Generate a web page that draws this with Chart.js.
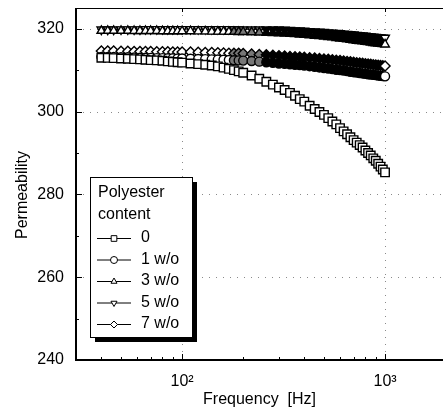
<!DOCTYPE html>
<html>
<head>
<meta charset="utf-8">
<script src="https://cdn.jsdelivr.net/npm/chart.js@4.4.1/dist/chart.umd.min.js"></script>
<style>
    html, body { margin: 0; padding: 0; background: #fff; overflow: hidden; }
    canvas { display: block; }
</style>
</head>
<body>
<canvas id="canvas" width="443" height="410" style="width:443px;height:410px"></canvas>
<script>
const Chart = window.Chart;

// частоты, Гц
const freq = [40, 43, 46, 50, 54, 58, 62, 66, 70, 75, 80, 85, 90, 95, 100,
    110, 120, 130, 140, 150, 160, 170, 180, 190, 200,
    220, 240, 260, 280, 300, 320, 340, 360, 380, 400,
    425, 450, 475, 500, 525, 550, 575, 600, 625, 650, 675, 700, 725, 750,
    775, 800, 825, 850, 875, 900, 925, 950, 975, 1000];

// проницаемость, 0 w/o
const perm0 = [313.0, 312.95, 312.9, 312.8, 312.75, 312.65, 312.6, 312.5, 312.4, 312.35, 312.25, 312.1, 312.0, 311.9, 311.8,
    311.6, 311.45, 311.3, 311.1, 310.9, 310.6, 310.3, 310.0, 309.7, 309.35,
    308.7, 307.9, 307.2, 306.5, 305.8, 305.2, 304.5, 303.8, 303.0, 302.4,
    301.4, 300.6, 299.9, 299.2, 298.4, 297.6, 296.9, 296.0, 295.2, 294.5, 293.8, 293.1, 292.5, 291.9,
    291.3, 290.6, 290.0, 289.4, 288.7, 288.1, 287.4, 286.7, 286.0, 285.3];

// 1 w/o
const perm1 = [313.2, 313.2, 313.15, 313.1, 313.1, 313.05, 313.0, 313.0, 312.95, 312.9, 312.9, 312.85, 312.85, 312.8, 312.8,
    312.75, 312.7, 312.65, 312.6, 312.55, 312.5, 312.45, 312.4, 312.35, 312.3,
    312.2, 312.05, 311.9, 311.75, 311.6, 311.5, 311.4, 311.3, 311.2, 311.1,
    310.95, 310.8, 310.65, 310.5, 310.4, 310.25, 310.1, 310.0, 309.9, 309.75, 309.6, 309.5, 309.4, 309.3,
    309.2, 309.1, 309.0, 308.95, 308.85, 308.8, 308.7, 308.6, 308.55, 308.5];

// 3 w/o
const perm3 = [319.5, 319.5, 319.5, 319.5, 319.5, 319.45, 319.45, 319.45, 319.45, 319.45, 319.4, 319.4, 319.4, 319.4, 319.4,
    319.4, 319.35, 319.35, 319.3, 319.3, 319.3, 319.25, 319.25, 319.2, 319.2,
    319.15, 319.1, 319.0, 318.95, 318.9, 318.85, 318.75, 318.7, 318.6, 318.5,
    318.4, 318.3, 318.2, 318.1, 318.0, 317.9, 317.75, 317.65, 317.55, 317.45, 317.3, 317.2, 317.1, 317.0,
    316.95, 316.85, 316.75, 316.65, 316.55, 316.5, 316.4, 316.35, 316.3, 316.2];

// 5 w/o
const perm5 = [319.8, 319.8, 319.8, 319.85, 319.85, 319.85, 319.85, 319.9, 319.9, 319.9, 319.9, 319.9, 319.9, 319.9, 319.9,
    319.9, 319.9, 319.9, 319.9, 319.9, 319.9, 319.9, 319.9, 319.85, 319.85,
    319.85, 319.85, 319.8, 319.8, 319.8, 319.75, 319.7, 319.6, 319.55, 319.5,
    319.4, 319.35, 319.25, 319.2, 319.1, 319.05, 318.95, 318.9, 318.8, 318.75, 318.65, 318.6, 318.5, 318.45,
    318.35, 318.3, 318.2, 318.15, 318.05, 318.0, 317.95, 317.9, 317.85, 317.8];

// 7 w/o
const perm7 = [314.6, 314.6, 314.6, 314.55, 314.55, 314.5, 314.5, 314.5, 314.5, 314.45, 314.45, 314.45, 314.4, 314.4, 314.4,
    314.35, 314.3, 314.25, 314.25, 314.2, 314.15, 314.1, 314.1, 314.05, 314.0,
    313.9, 313.8, 313.7, 313.6, 313.5, 313.4, 313.3, 313.25, 313.15, 313.1,
    313.0, 312.9, 312.8, 312.7, 312.6, 312.5, 312.4, 312.3, 312.2, 312.1, 312.0, 311.9, 311.8, 311.7,
    311.65, 311.55, 311.5, 311.4, 311.3, 311.25, 311.2, 311.1, 311.05, 311.0];

const seriesLabels = ["0", "1 w/o", "3 w/o", "5 w/o", "7 w/o"];
const legendTitle = ["Polyester", "content"];

const yTicks = [240, 260, 280, 300, 320];
const yMinor = [250, 270, 290, 310];
const xMajor = [100, 1000];
const xMinor = [40, 50, 60, 70, 80, 90, 200, 300, 400, 500, 600, 700, 800, 900];
const xTickLabels = {100: "10\u00B2", 1000: "10\u00B3"};

const SANS = 'Arial, "Liberation Sans", Helvetica, sans-serif';
const NARROW = '"Liberation Sans Narrow", "Arial Narrow", Arial, "Liberation Sans", sans-serif';

const toPoints = (vals) => vals.map((v, i) => ({x: freq[i], y: v}));

// плотная часть рядов при печати сливается в чёрную полосу
const denseFill = (c) => {
    if (!c.raw) return "#fff";
    const last = c.dataset.data.length - 1;
    if (c.dataIndex === last) return "#fff";
    if (c.raw.x >= 260) return "#000";
    if (c.raw.x >= 180) return "#777";
    return "#fff";
};

const markers = [
    {pointStyle: "rect", radius: 6, rotation: 0},
    {pointStyle: "circle", radius: 4.5, rotation: 0},
    {pointStyle: "triangle", radius: 5, rotation: 0},
    {pointStyle: "triangle", radius: 5, rotation: 180},
    {pointStyle: "rectRot", radius: 5, rotation: 0},
];

const values = [perm0, perm1, perm3, perm5, perm7];

const datasets = values.map((vals, i) => ({
    label: seriesLabels[i],
    data: toPoints(vals),
    showLine: true,
    borderColor: "#000",
    borderWidth: 1,
    pointStyle: markers[i].pointStyle,
    pointRadius: markers[i].radius,
    pointRotation: markers[i].rotation,
    pointBorderColor: "#000",
    pointBorderWidth: 1.4,
    pointBackgroundColor: i === 0 ? "#fff" : denseFill,
}));

const frame = {
    id: "frame",
    beforeDatasetsDraw(chart) {
        const {ctx, chartArea: a, scales: {x, y}} = chart;
        ctx.save();
        ctx.strokeStyle = "#8a8a8a";
        ctx.lineWidth = 1;
        ctx.setLineDash([1, 6]);
        yTicks.slice(1).forEach(v => {
            const py = Math.round(y.getPixelForValue(v)) + 0.5;
            ctx.beginPath(); ctx.moveTo(a.left, py); ctx.lineTo(a.right, py); ctx.stroke();
        });
        xMajor.forEach(v => {
            const px = Math.round(x.getPixelForValue(v)) + 0.5;
            ctx.beginPath(); ctx.moveTo(px, a.top); ctx.lineTo(px, a.bottom); ctx.stroke();
        });
        ctx.restore();
    },
    afterDraw(chart) {
        const {ctx, chartArea: a, scales: {x, y}} = chart;
        ctx.save();
        ctx.strokeStyle = "#000";
        ctx.setLineDash([]);

        // рамка
        ctx.lineWidth = 1;
        ctx.beginPath(); ctx.moveTo(a.left, a.top + 0.5); ctx.lineTo(a.right, a.top + 0.5); ctx.stroke();
        ctx.lineWidth = 2;
        ctx.beginPath();
        ctx.moveTo(a.left, a.top); ctx.lineTo(a.left, a.bottom); ctx.lineTo(a.right, a.bottom);
        ctx.stroke();

        // засечки внутрь
        ctx.lineWidth = 1;
        const tick = (x1, y1, x2, y2) => { ctx.beginPath(); ctx.moveTo(x1, y1); ctx.lineTo(x2, y2); ctx.stroke(); };
        yTicks.forEach(v => { const py = Math.round(y.getPixelForValue(v)) + 0.5; tick(a.left, py, a.left + 6, py); });
        yMinor.forEach(v => { const py = Math.round(y.getPixelForValue(v)) + 0.5; tick(a.left, py, a.left + 3, py); });
        xMajor.forEach(v => {
            const px = Math.round(x.getPixelForValue(v)) + 0.5;
            tick(px, a.bottom, px, a.bottom - 6);
            tick(px, a.top, px, a.top + 4);
        });
        xMinor.forEach(v => { const px = Math.round(x.getPixelForValue(v)) + 0.5; tick(px, a.bottom, px, a.bottom - 3); });

        // подпись оси y
        ctx.fillStyle = "#000";
        ctx.font = "16px " + SANS;
        ctx.translate(23, 195);
        ctx.rotate(-Math.PI / 2);
        ctx.textAlign = "center";
        ctx.textBaseline = "middle";
        ctx.fillText("Permeability", 0, 0);
        ctx.setTransform(1, 0, 0, 1, 0, 0);

        // легенда
        const bx = 90, by = 177, bw = 102, bh = 160;
        ctx.fillStyle = "#000";
        ctx.fillRect(bx + 5, by + 5, bw, bh);
        ctx.fillStyle = "#fff";
        ctx.fillRect(bx, by, bw, bh);
        ctx.strokeRect(bx + 0.5, by + 0.5, bw, bh);

        ctx.fillStyle = "#000";
        ctx.font = "16px " + SANS;
        ctx.textAlign = "left";
        ctx.textBaseline = "middle";
        ctx.fillText(legendTitle[0], 98, 193);
        ctx.fillText(legendTitle[1], 98, 215);

        chart.data.datasets.forEach((ds, i) => {
            const ry = 238 + i * 21.5;
            ctx.strokeStyle = "#000";
            ctx.lineWidth = 1;
            ctx.beginPath(); ctx.moveTo(97, ry + 0.5); ctx.lineTo(131, ry + 0.5); ctx.stroke();
            ctx.fillStyle = "#fff";
            Chart.helpers.drawPoint(ctx, {
                pointStyle: markers[i].pointStyle,
                rotation: markers[i].rotation,
                radius: markers[i].pointStyle === "rect" ? 4 : 3.5,
                borderWidth: 1,
            }, 114, ry + 0.5);
            ctx.fillStyle = "#000";
            ctx.fillText(ds.label, 141, ry);
        });
        ctx.restore();
    },
};

new Chart(document.getElementById("canvas"), {
    type: "scatter",
    data: {datasets},
    options: {
        responsive: false,
        animation: false,
        events: [],
        plugins: {
            legend: {display: false},
            tooltip: {enabled: false},
        },
        layout: {autoPadding: false, padding: {left: 0, right: 0, top: 8, bottom: 0}},
        scales: {
            x: {
                type: "logarithmic",
                min: 30,
                max: 1930,
                afterBuildTicks: (s) => { s.ticks = xMajor.map(v => ({value: v})); },
                afterFit: (s) => { s.height = 50; s.paddingLeft = 0; s.paddingRight = 0; },
                grid: {display: false, drawTicks: false},
                border: {display: false},
                ticks: {
                    color: "#000",
                    font: {family: NARROW, size: 16},
                    padding: 12,
                    autoSkip: false,
                    maxRotation: 0,
                    callback: (v) => xTickLabels[v] || "",
                },
                title: {
                    display: true,
                    text: "Frequency  [Hz]",
                    color: "#000",
                    font: {family: SANS, size: 16},
                    padding: {top: 0, bottom: 1},
                },
            },
            y: {
                type: "linear",
                min: 240,
                max: 325,
                afterBuildTicks: (s) => { s.ticks = yTicks.map(v => ({value: v})); },
                afterFit: (s) => { s.width = 76; s.paddingTop = 0; s.paddingBottom = 0; },
                grid: {display: false, drawTicks: false},
                border: {display: false},
                ticks: {
                    color: "#000",
                    font: {family: NARROW, size: 16},
                    padding: 12,
                },
            },
        },
    },
    plugins: [frame],
});
</script>
</body>
</html>
